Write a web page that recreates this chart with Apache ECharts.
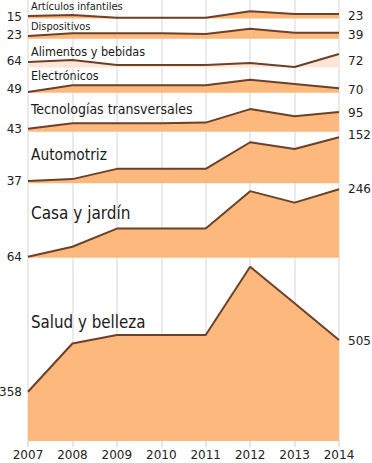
<!DOCTYPE html>
<html>
<head>
<meta charset="utf-8">
<script src="https://cdn.jsdelivr.net/npm/echarts@6/dist/echarts.min.js"></script>
<style>
  html, body { margin: 0; padding: 0; background: #fff; }
  #chart { width: 372px; height: 463px; }
</style>
</head>
<body>
<div id="chart"></div>
<script>
// ---- data ----
const years = ['2007', '2008', '2009', '2010', '2011', '2012', '2013', '2014'];
const categories = ['Artículos infantiles', 'Dispositivos', 'Alimentos y bebidas', 'Electrónicos',
  'Tecnologías transversales', 'Automotriz', 'Casa y jardín', 'Salud y belleza'];
const articulosInfantiles = [15, 19, 8, 8, 8, 34, 23, 23];
const dispositivos = [23, 36, 36, 36, 33, 58, 39, 39];
const alimentosBebidas = [64, 66, 61, 61, 61, 63, 59, 72];
const electronicos = [49, 87, 87, 87, 87, 119, 95, 70];
const tecnologiasTransversales = [43, 60, 60, 60, 62, 104, 82, 95];
const automotriz = [37, 42, 69, 69, 69, 139, 121, 152];
const casaJardin = [64, 91, 140, 140, 140, 241, 210, 246];
const saludBelleza = [358, 495, 519, 519, 519, 713, 609, 505];
const seriesValues = [articulosInfantiles, dispositivos, alimentosBebidas, electronicos,
  tecnologiasTransversales, automotriz, casaJardin, saludBelleza];

// ---- layout (pixels / scales per band) ----
const bandLayout = [
  { base: 18.5, min: 5, k: 4 },
  { base: 38.7, min: 10, k: 4.85 },
  { base: 67.5, min: 58.5, k: 1 },
  { base: 92.7, min: 45, k: 5.7 },
  { base: 131.7, min: 33.7, k: 3.11 },
  { base: 183.3, min: 31, k: 2.63 },
  { base: 257.7, min: 61.3, k: 2.7 },
  { base: 441, min: 218, k: 2.84 }
];
const titleSize = [11, 11, 12.5, 12.4, 14, 15.3, 17, 16.8];
const titleTop = [1.3, 20.8, 44.6, 69.7, 102, 147.1, 204.7, 313.3];
const leftOffset = [0.7, -0.8, -0.8, -3, 0, 0, 0, 0];
const rightOffset = [1.7, 2.6, 7, 2, 1.3, -2, 0, 1];
const fillColors = ['#fdb97d', '#fdb97d', '#fde6d6', '#fdb97d', '#fdb97d', '#fdb97d', '#fdb97d', '#fdb97d'];

const GL = 28, GR = 33;
const labelFont = { fontFamily: 'DejaVu Sans', fontSize: 12, color: '#222' };

const grid = [{ left: GL, right: GR, top: 0, height: 441 }];
const xAxis = [{
  type: 'category', gridIndex: 0, data: years, boundaryGap: false,
  axisLine: { show: false },
  axisTick: { show: true, length: 6, lineStyle: { color: '#dcdcdc', width: 1.5 } },
  axisLabel: { margin: 8, fontFamily: 'DejaVu Sans', fontSize: 12, color: '#222' },
  splitLine: { show: true, lineStyle: { color: '#e3e3e3', width: 1.5 } }
}];
const yAxis = [{ type: 'value', gridIndex: 0, show: false }];
const series = [];
const title = [];

seriesValues.forEach((vals, i) => {
  const L = bandLayout[i];
  const gi = i + 1;
  grid.push({ left: GL, right: GR, top: 0, height: L.base });
  xAxis.push({ type: 'category', gridIndex: gi, data: years, boundaryGap: false, show: false });
  yAxis.push({ type: 'value', gridIndex: gi, show: false, min: L.min, max: L.min + L.base * L.k });
  const n = vals.length;
  const data = vals.map((v, j) => {
    if (j === 0) return { value: v, label: { show: true, position: 'left', distance: 6, offset: [0, leftOffset[i]] } };
    if (j === n - 1) return { value: v, label: { show: true, position: 'right', distance: 9, offset: [0, rightOffset[i]] } };
    return v;
  });
  series.push({
    type: 'line', xAxisIndex: gi, yAxisIndex: gi, data: data,
    symbol: 'circle', symbolSize: 0, showSymbol: true, clip: false,
    lineStyle: { color: '#6b4128', width: 2 },
    itemStyle: { color: '#6b4128' },
    areaStyle: { color: fillColors[i], opacity: 1, origin: 'start' },
    label: Object.assign({ show: false }, labelFont),
    z: 2 + i
  });
  title.push({
    text: categories[i], left: 31, top: titleTop[i], padding: 0,
    textStyle: { fontFamily: "'DejaVu Sans Condensed', 'DejaVu Sans'", fontSize: titleSize[i], fontWeight: 'normal', color: '#1a1a1a' }
  });
});

const chart = echarts.init(document.getElementById('chart'), null, { renderer: 'svg' });
chart.setOption({ animation: false, backgroundColor: '#fff', title, grid, xAxis, yAxis, series });
</script>
</body>
</html>
